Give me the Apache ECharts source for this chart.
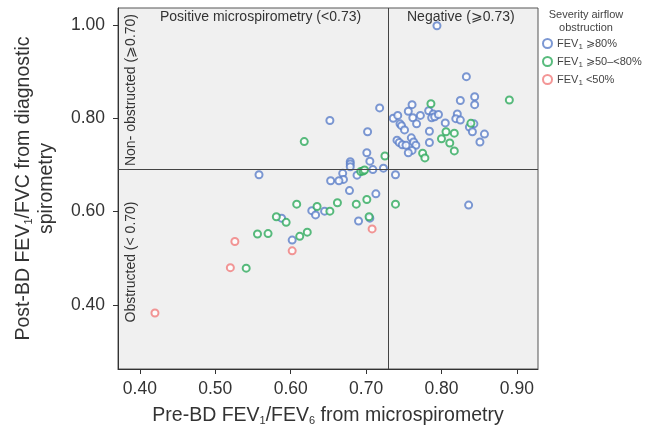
<!DOCTYPE html>
<html><head><meta charset="utf-8">
<script src="https://cdn.jsdelivr.net/npm/echarts@6/dist/echarts.min.js"></script>
<style>html,body{margin:0;padding:0;background:#fff}#c{width:653px;height:428px}</style>
</head><body><div id="c"></div>
<script>
// Pre-BD FEV1/FEV6 (x) vs Post-BD FEV1/FVC (y)
const fev80 = [
[0.794,0.998],[0.833,0.889],[0.844,0.846],[0.825,0.838],[0.844,0.829],[0.718,0.822],[0.761,0.829],
[0.756,0.815],[0.652,0.795],[0.736,0.800],[0.742,0.806],[0.762,0.801],[0.772,0.806],[0.783,0.816],
[0.789,0.809],[0.787,0.801],[0.791,0.803],[0.796,0.808],[0.805,0.790],[0.821,0.809],[0.819,0.799],
[0.825,0.796],[0.843,0.788],[0.837,0.781],[0.841,0.771],[0.857,0.766],[0.851,0.749],[0.745,0.788],
[0.747,0.784],[0.751,0.775],[0.767,0.788],[0.784,0.772],[0.784,0.748],[0.702,0.771],[0.741,0.753],
[0.744,0.748],[0.748,0.743],[0.753,0.742],[0.760,0.758],[0.763,0.749],[0.766,0.742],[0.761,0.731],
[0.756,0.726],[0.701,0.726],[0.705,0.708],[0.679,0.707],[0.679,0.702],[0.679,0.696],[0.709,0.690],
[0.723,0.693],[0.688,0.678],[0.669,0.682],[0.670,0.669],[0.664,0.666],[0.653,0.666],[0.739,0.679],
[0.558,0.679],[0.678,0.645],[0.713,0.638],[0.628,0.602],[0.633,0.593],[0.645,0.601],[0.836,0.614],
[0.705,0.586],[0.690,0.580],[0.588,0.586],[0.602,0.539]
];
const fev50to80 = [
[0.890,0.839],[0.786,0.831],[0.839,0.789],[0.806,0.771],[0.817,0.768],[0.800,0.756],[0.811,0.747],
[0.817,0.730],[0.775,0.725],[0.778,0.715],[0.618,0.750],[0.725,0.719],[0.693,0.686],[0.696,0.687],
[0.698,0.689],[0.608,0.616],[0.635,0.611],[0.662,0.619],[0.687,0.616],[0.701,0.626],[0.739,0.616],
[0.652,0.601],[0.704,0.589],[0.581,0.589],[0.594,0.577],[0.556,0.552],[0.570,0.553],[0.612,0.547],
[0.622,0.556],[0.541,0.479]
];
const fevBelow50 = [
[0.708,0.563],[0.526,0.536],[0.602,0.516],[0.520,0.480],[0.420,0.383]
];
const seriesNames = ['FEV1 ≥80%', 'FEV1 ≥50–<80%', 'FEV1 <50%'];
const xTicks = [0.40, 0.50, 0.60, 0.70, 0.80, 0.90];
const yTicks = [0.40, 0.60, 0.80, 1.00];
const xCut = 0.73;   // microspirometry threshold line
const yCut = 0.694;  // obstruction threshold line as drawn
const xRange = [0.371, 0.928];
const yRange = [0.263, 1.036];

const colors = ['#5b7ec8', '#2eaa5c', '#f07c7c'];
const FONT = 'Liberation Sans, Arial, sans-serif';
const subRich = {
  sub: { fontSize: 8, padding: [7, 0, 0, 0], fontFamily: FONT, color: '#444' }
};
const titleSub = { sub: { fontSize: 11, padding: [10, 0, 0, 0], color: '#333', fontFamily: FONT } };
const chart = echarts.init(document.getElementById('c'));
const mk = (name, data, color, withLines) => ({
  name, type: 'scatter', data, symbol: 'emptyCircle', symbolSize: 7,
  itemStyle: { color: color, borderColor: color, borderWidth: 1.3 },
  emphasis: { disabled: true }, z: 3,
  markLine: withLines ? {
    silent: true, symbol: 'none', animation: false,
    lineStyle: { color: '#444', width: 1, type: 'solid' },
    label: { show: false },
    data: [{ xAxis: xCut }, { yAxis: yCut }]
  } : undefined
});
chart.setOption({
  animation: false,
  backgroundColor: '#fff',
  textStyle: { fontFamily: FONT },
  grid: { left: 118, top: 8, width: 420, height: 361, show: true, outerBoundsMode: 'none', containLabel: false,
          backgroundColor: '#f0f0f0', borderColor: '#555', borderWidth: 1 },
  xAxis: {
    type: 'value', min: xRange[0], max: xRange[1],
    splitLine: { show: false },
    axisLine: { show: true, onZero: false, lineStyle: { color: '#333' } },
    axisTick: { show: true, length: 5, customValues: xTicks, lineStyle: { color: '#333' } },
    axisLabel: { customValues: xTicks, color: '#333', fontSize: 17.5, margin: 11,
                 formatter: v => v.toFixed(2) },
    name: 'Pre-BD FEV{sub|1}/FEV{sub|6} from microspirometry',
    nameLocation: 'middle', nameGap: 36,
    nameTextStyle: { fontSize: 19.5, color: '#333', rich: titleSub }
  },
  yAxis: {
    type: 'value', min: yRange[0], max: yRange[1],
    splitLine: { show: false },
    axisLine: { show: true, onZero: false, lineStyle: { color: '#333' } },
    axisTick: { show: true, length: 5, customValues: yTicks, lineStyle: { color: '#333' } },
    axisLabel: { customValues: yTicks, color: '#333', fontSize: 17.5, margin: 13,
                 formatter: v => v.toFixed(2) },
    name: 'Post-BD FEV{sub|1}/FVC from diagnostic\nspirometry',
    nameLocation: 'middle', nameGap: 60, nameRotate: 90,
    nameTextStyle: { fontSize: 19.5, color: '#333', lineHeight: 23, align: 'center', rich: titleSub }
  },
  legend: {
    orient: 'vertical', left: 542, top: 38, padding: 0, itemWidth: 9, itemHeight: 9, itemGap: 5,
    selectedMode: false,
    data: seriesNames,
    formatter: n => n.replace('FEV1', 'FEV{sub|1}').replace('≥', '⩾'),
    textStyle: { fontSize: 11, color: '#444', rich: subRich }
  },
  graphic: [
    { type: 'text', left: 160, top: 10, silent: true,
      style: { text: 'Positive microspirometry (<0.73)', fontSize: 14, fill: '#333', fontFamily: FONT } },
    { type: 'text', left: 407, top: 10, silent: true,
      style: { text: 'Negative (⩾0.73)', fontSize: 14, fill: '#333', fontFamily: FONT } },
    { type: 'text', x: 131, y: 90, rotation: Math.PI / 2, silent: true,
      style: { text: 'Non- obstructed (⩾0.70)', fontSize: 14, fill: '#333', align: 'center', verticalAlign: 'middle', fontFamily: FONT } },
    { type: 'text', x: 131, y: 262, rotation: Math.PI / 2, silent: true,
      style: { text: 'Obstructed (< 0.70)', fontSize: 14, fill: '#333', align: 'center', verticalAlign: 'middle', fontFamily: FONT } },
    { type: 'text', x: 586, y: 8, silent: true,
      style: { text: 'Severity airflow\nobstruction', fontSize: 11, lineHeight: 13, fill: '#444', align: 'center', fontFamily: FONT } }
  ],
  series: [
    mk(seriesNames[0], fev80, colors[0], true),
    mk(seriesNames[1], fev50to80, colors[1], false),
    mk(seriesNames[2], fevBelow50, colors[2], false)
  ]
});
</script></body></html>
